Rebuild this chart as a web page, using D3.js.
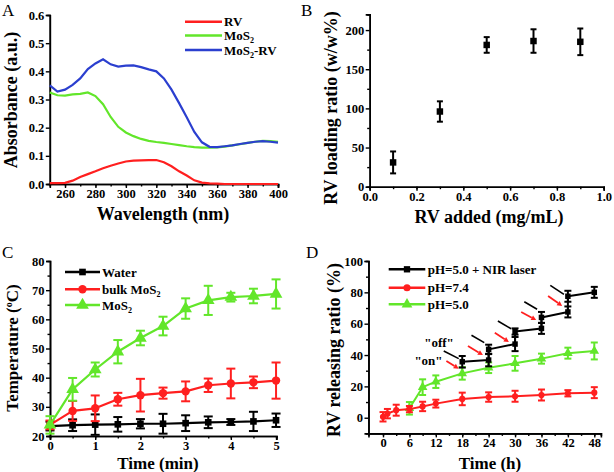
<!DOCTYPE html>
<html><head><meta charset="utf-8">
<script src="https://cdn.jsdelivr.net/npm/d3@7"></script>
<style>
body{margin:0;background:#fff;}
svg{display:block;}
text{font-family:"Liberation Serif","Times New Roman",serif;}
</style></head>
<body>
<svg id="c" width="614" height="472"></svg>
<script>
// ---------- Panel A data ----------
const wavelength = [250,255,260,265,270,275,280,285,290,295,300,305,310,315,320,325,330,335,340,345,350,355,360,365,370,375,380,385,390,395,400];
const absRV = [0.003,0.003,0.004,0.012,0.025,0.035,0.045,0.056,0.065,0.073,0.080,0.083,0.084,0.085,0.085,0.077,0.063,0.045,0.030,0.013,0.005,0.002,0.001,0,0,0,0,0,0,0,0];
const absMoS2 = [0.325,0.315,0.314,0.318,0.320,0.325,0.312,0.283,0.238,0.203,0.183,0.170,0.160,0.153,0.149,0.146,0.142,0.138,0.134,0.131,0.129,0.129,0.130,0.133,0.137,0.141,0.146,0.150,0.153,0.152,0.150];
const absMoS2RV = [0.350,0.328,0.335,0.352,0.375,0.408,0.428,0.443,0.425,0.417,0.420,0.421,0.415,0.407,0.400,0.375,0.335,0.287,0.237,0.185,0.148,0.132,0.131,0.134,0.137,0.142,0.146,0.150,0.152,0.150,0.147];
const seriesA = ["RV","MoS2","MoS2-RV"];

// ---------- Panel B data ----------
const rvAdded = [0.1,0.3,0.5,0.7,0.9];
const loading = [31,96,181,186,185];
const loadingErr = [14,13,10,15,17];

// ---------- Panel C data ----------
const timeMin = [0,0.5,1,1.5,2,2.5,3,3.5,4,4.5,5];
const tWater = [23.4,23.7,23.9,24.0,24.2,24.2,24.4,24.7,24.8,25.0,25.4];
const tWaterErr = [1.5,2,3.5,2.5,1.6,3.4,2.7,2,1,3.3,2.3];
const tBulk = [23.8,28.6,29.5,32.6,34.0,34.7,35.3,37.4,38.0,38.4,39.0];
const tBulkErr = [1.5,3.4,4.4,2.2,5.6,1.9,3.4,2.3,5.1,2.0,6.2];
const tMoS2 = [23.8,36.0,42.8,48.9,53.6,57.7,63.7,66.5,67.6,68.0,68.7];
const tMoS2Err = [3,3.9,2.4,4.0,2.5,3.2,3.5,5.0,1.5,2.5,5.0];
const seriesC = ["Water","bulk MoS2","MoS2"];

// ---------- Panel D data ----------
const hNIR = [18,24,24,30,30,36,36,42,42,48];
const relNIR = [35.7,36.8,43.6,47.0,55.0,57.0,64.0,67.5,77.5,80.0];
const relNIRErr = [3.7,4.0,3.0,4.5,2.0,3.5,3.5,3.5,3.5,3.5];
const h74 = [0,1,3,6,9,12,18,24,30,36,42,48];
const rel74 = [0.6,2.6,4.8,5.5,7.2,9.0,12.0,13.2,13.7,14.5,15.6,16.0];
const rel74Err = [3,3,3.5,2,3,2.5,4,3,3.5,3.5,2,3.5];
const h50 = [6,9,12,18,24,30,36,42,48];
const rel50 = [6.0,19.5,23.0,28.3,31.9,34.7,37.7,41.2,42.6];
const rel50Err = [4,5,4,4,3.4,4.7,3.2,3.5,5.4];
const seriesD = ["pH=5.0 + NIR laser","pH=7.4","pH=5.0"];
// arrows (data units): [x1,y1,x2,y2]
const offArrows = [[13.8,42.6,17.2,37.7],[20.1,52.6,23.0,47.9],[26.1,61.7,29.1,56.8],[32.1,74.0,35.0,69.2],[38.0,84.5,41.1,78.7]];
const onArrows = [[14.4,36.2,17.2,31.3],[19.3,45.8,22.7,40.0],[25.4,54.2,28.6,48.3],[31.4,67.5,34.8,62.3],[37.5,77.7,40.7,71.3]];

const RED = "#ff1f1f", GREEN = "#62e62a", BLUE = "#2b3fcf", BLACK = "#000";
const svg = d3.select("#c");
const TICKFS = 12.5, TITLEFS = 18, LEGFS = 13;

function styleAxis(g){
  g.selectAll("path.domain").attr("stroke","#000").attr("stroke-width",1.6);
  g.selectAll(".tick line").attr("stroke","#000").attr("stroke-width",1.4);
  g.selectAll(".tick text").attr("font-family","Liberation Serif, Times New Roman, serif")
    .attr("font-weight","bold").attr("font-size",TICKFS).attr("fill","#000");
}
function axes(x,y,xMajor,xMinor,yMajor,yMinor,xFmt,yFmt){
  const gxm = svg.append("g").attr("transform",`translate(0,${y.range()[0]})`)
     .call(d3.axisBottom(x).tickValues(xMinor).tickSize(2.5).tickFormat(""));
  styleAxis(gxm);
  const gx = svg.append("g").attr("transform",`translate(0,${y.range()[0]})`)
     .call(d3.axisBottom(x).tickValues(xMajor).tickSize(4).tickPadding(1).tickFormat(xFmt));
  styleAxis(gx);
  const gym = svg.append("g").attr("transform",`translate(${x.range()[0]},0)`)
     .call(d3.axisLeft(y).tickValues(yMinor).tickSize(2.5).tickFormat(""));
  styleAxis(gym);
  const gy = svg.append("g").attr("transform",`translate(${x.range()[0]},0)`)
     .call(d3.axisLeft(y).tickValues(yMajor).tickSize(4).tickPadding(1.5).tickFormat(yFmt));
  styleAxis(gy);
}
function boldText(x,y,txt,fs,anchor){
  return svg.append("text").attr("x",x).attr("y",y).attr("font-size",fs)
    .attr("font-weight","bold").attr("text-anchor",anchor||"start").attr("fill","#000").text(txt);
}
function mosText(sel, prefix, suffix, fs){
  sel.append("tspan").text(prefix+"MoS");
  sel.append("tspan").text("2").attr("font-size",fs*0.62).attr("dy",fs*0.25);
  if(suffix) sel.append("tspan").text(suffix).attr("dy",-fs*0.25);
}
function yTitle(cx,cy,fs){
  return svg.append("text").attr("transform",`translate(${cx},${cy}) rotate(-90)`)
    .attr("text-anchor","middle").attr("font-size",fs).attr("font-weight","bold").attr("fill","#000");
}
function panelLetter(x,y,t){
  svg.append("text").attr("x",x).attr("y",y).attr("font-size",17).attr("fill","#000").text(t);
}
function errBars(x,y,xs,ys,es,color,cap){
  const g = svg.append("g").attr("stroke",color).attr("stroke-width",2);
  xs.forEach((xv,i)=>{
    const px=x(xv), y1=y(ys[i]-es[i]), y2=y(ys[i]+es[i]);
    g.append("line").attr("x1",px).attr("x2",px).attr("y1",y1).attr("y2",y2);
    g.append("line").attr("x1",px-cap/2).attr("x2",px+cap/2).attr("y1",y1).attr("y2",y1);
    g.append("line").attr("x1",px-cap/2).attr("x2",px+cap/2).attr("y1",y2).attr("y2",y2);
  });
}
function markers(x,y,xs,ys,type,color,size){
  const sym = d3.symbol().type(type).size(size);
  svg.append("g").selectAll("path").data(xs).join("path")
    .attr("transform",(d,i)=>`translate(${x(d)},${y(ys[i])})`).attr("d",sym).attr("fill",color);
}
function polyline(x,y,xs,ys,color,w){
  svg.append("path").attr("d",d3.line().x(d=>x(d[0])).y(d=>y(d[1]))(xs.map((d,i)=>[d,ys[i]])))
    .attr("fill","none").attr("stroke",color).attr("stroke-width",w).attr("stroke-linejoin","round");
}

// ================= Panel A =================
{
  const x = d3.scaleLinear().domain([250,400]).range([49.8,278]);
  const y = d3.scaleLinear().domain([0,0.6]).range([184,15]);
  axes(x,y,d3.range(260,401,20),d3.range(250,401,10),d3.range(0,0.61,0.1),[],d=>d,d=>d.toFixed(1));
  const cols=[RED,GREEN,BLUE];
  [absRV,absMoS2,absMoS2RV].forEach((arr,k)=>{
    svg.append("path").attr("d",d3.line().x((d,i)=>x(wavelength[i])).y(d=>y(d))(arr))
      .attr("fill","none").attr("stroke",cols[k]).attr("stroke-width",2.2);
  });
  seriesA.forEach((s,k)=>{
    const ly=[21.7,35.5,50][k];
    svg.append("line").attr("x1",185).attr("x2",222).attr("y1",ly).attr("y2",ly).attr("stroke",cols[k]).attr("stroke-width",2.4);
    const t = boldText(224,ly+4.5,"",LEGFS);
    if(s==="RV") t.text("RV");
    else if(s==="MoS2") mosText(t,"","",LEGFS);
    else mosText(t,"","-RV",LEGFS);
  });
  boldText(163,220,"Wavelength (nm)",TITLEFS,"middle");
  yTitle(17,100,TITLEFS).text("Absorbance (a.u.)");
  panelLetter(2,16,"A");
}

// ================= Panel B =================
{
  const x = d3.scaleLinear().domain([0,1]).range([369.7,603.7]);
  const y = d3.scaleLinear().domain([0,220]).range([186.7,14.4]);
  axes(x,y,d3.range(0,1.01,0.2),d3.range(0,1.01,0.1),[0,50,100,150,200],[25,75,125,175],d=>d.toFixed(1),d=>d);
  errBars(x,y,rvAdded,loading,loadingErr,BLACK,6);
  markers(x,y,rvAdded,loading,d3.symbolSquare,BLACK,42);
  boldText(489,223,"RV added (mg/mL)",TITLEFS,"middle");
  yTitle(337,108,TITLEFS).text("RV loading ratio (w/w%)");
  panelLetter(301,16,"B");
}

// ================= Panel C =================
{
  const x = d3.scaleLinear().domain([0,5.01]).range([50,276.5]);
  const y = d3.scaleLinear().domain([20,80]).range([436,261]);
  axes(x,y,[0,1,2,3,4,5],d3.range(0,5.01,0.5),d3.range(20,81,10),d3.range(25,80,10),d=>d,d=>d);
  const defs = [[tWater,tWaterErr,BLACK,d3.symbolSquare,44],[tBulk,tBulkErr,RED,d3.symbolCircle,55],[tMoS2,tMoS2Err,GREEN,d3.symbolTriangle,70]];
  defs.forEach(([v,e,c,sym,sz])=>{
    errBars(x,y,timeMin,v,e,c,9);
    polyline(x,y,timeMin,v,c,2.2);
    markers(x,y,timeMin,v,sym,c,sz);
  });
  seriesC.forEach((s,k)=>{
    const ly=[272,289.3,305][k];
    const [v,e,c,sym,sz]=defs[k];
    svg.append("line").attr("x1",65).attr("x2",100).attr("y1",ly).attr("y2",ly).attr("stroke",c).attr("stroke-width",2.4);
    svg.append("path").attr("transform",`translate(82.5,${ly})`).attr("d",d3.symbol().type(sym).size(sz)()).attr("fill",c);
    const t = boldText(102,ly+4.5,"",LEGFS);
    if(s==="Water") t.text("Water");
    else if(s==="bulk MoS2") mosText(t,"bulk ","",LEGFS);
    else mosText(t,"","",LEGFS);
  });
  boldText(158,468.5,"Time (min)",17,"middle");
  const yt = yTitle(18,348,17);
  yt.append("tspan").text("Temperature (");
  yt.append("tspan").text("o").attr("font-size",10).attr("dy",-6);
  yt.append("tspan").text("C)").attr("dy",6);
  panelLetter(2,258,"C");
}

// ================= Panel D =================
{
  const x = d3.scaleLinear().domain([-3.3,49.5]).range([383-3.3*4.402,383+49.5*4.402]);
  const y = d3.scaleLinear().domain([-10,100]).range([433.4,261]);
  axes(x,y,d3.range(0,49,6),d3.range(0,49,3),d3.range(0,101,20),d3.range(10,100,20),d=>d,d=>d);
  const defs = [[hNIR,relNIR,relNIRErr,BLACK,d3.symbolSquare,30],[h74,rel74,rel74Err,RED,d3.symbolCircle,30],[h50,rel50,rel50Err,GREEN,d3.symbolTriangle,40]];
  [2,1,0].forEach(k=>{
    const [hx,v,e,c,sym,sz]=defs[k];
    errBars(x,y,hx,v,e,c,7);
    polyline(x,y,hx,v,c,2);
    markers(x,y,hx,v,sym,c,sz);
  });
  // arrows
  offArrows.forEach(a=>{
    svg.append("line").attr("x1",x(a[0])).attr("y1",y(a[1])).attr("x2",x(a[2])).attr("y2",y(a[3]))
      .attr("stroke",BLACK).attr("stroke-width",1.6);
  });
  onArrows.forEach(a=>{
    const x1=x(a[0]),y1=y(a[1]),x2=x(a[2]),y2=y(a[3]);
    const ang=Math.atan2(y2-y1,x2-x1), L=5, W=2.6;
    const bx=x2-L*Math.cos(ang), by=y2-L*Math.sin(ang);
    svg.append("line").attr("x1",x1).attr("y1",y1).attr("x2",bx).attr("y2",by).attr("stroke",RED).attr("stroke-width",1.8);
    svg.append("path").attr("d",`M${x2},${y2}L${bx-W*Math.sin(ang)},${by+W*Math.cos(ang)}L${bx+W*Math.sin(ang)},${by-W*Math.cos(ang)}Z`).attr("fill",RED);
  });
  boldText(439,346.5,"\"off\"",13,"middle");
  boldText(428.5,364.5,"\"on\"",13,"middle");
  seriesD.forEach((s,k)=>{
    const ly=[269.3,287.7,304.3][k];
    const [hx,v,e,c,sym,sz]=defs[k];
    svg.append("line").attr("x1",388.7).attr("x2",425.3).attr("y1",ly).attr("y2",ly).attr("stroke",c).attr("stroke-width",2.4);
    svg.append("path").attr("transform",`translate(407,${ly})`).attr("d",d3.symbol().type(sym).size(sz+10)()).attr("fill",c);
    boldText(427.7,ly+4.5,s,LEGFS);
  });
  boldText(490,468.5,"Time (h)",17,"middle");
  yTitle(340,350,TITLEFS).text("RV releasing ratio (%)");
  panelLetter(306,258,"D");
}
</script>
</body></html>
